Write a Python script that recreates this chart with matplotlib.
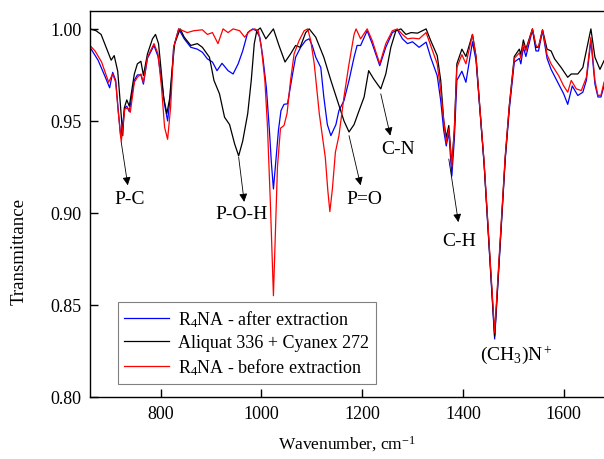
import matplotlib
matplotlib.use("Agg")
import matplotlib.pyplot as plt

# FTIR spectra
wn_black = [660, 672, 682, 692, 702, 708, 715, 720, 725, 728, 733, 738, 748, 754, 761, 766, 774, 784, 790, 796,
            801, 806, 812.5, 818, 822, 828, 839, 847, 860, 873, 883, 897, 906, 917, 927, 937, 947, 955, 963, 973,
            980, 986, 991, 998, 1009, 1024, 1035, 1047, 1058, 1068, 1077, 1088, 1095, 1108, 1124, 1138, 1151, 1164,
            1174, 1184, 1194, 1204, 1213, 1223, 1237, 1247, 1257, 1267, 1277, 1287, 1297, 1310, 1327, 1336, 1349,
            1356, 1362, 1367, 1372, 1378, 1383, 1388, 1398, 1406, 1419, 1426, 1432, 1442, 1463, 1484, 1492, 1502,
            1512, 1515, 1520, 1525, 1538, 1545, 1550, 1558, 1567, 1575, 1582, 1595, 1608, 1615, 1628, 1638, 1654,
            1662, 1672, 1680]
t_black = [1.000, 0.999, 0.997, 0.990, 0.983, 0.9855, 0.977, 0.960, 0.942, 0.957, 0.9614, 0.958, 0.9755, 0.981,
           0.9824, 0.9747, 0.9864, 0.9946, 0.997, 0.992, 0.978, 0.963, 0.954, 0.962, 0.975, 0.992, 1.000, 0.9955,
           0.991, 0.992, 0.990, 0.9846, 0.972, 0.9647, 0.952, 0.948, 0.9375, 0.931, 0.939, 0.954, 0.972, 0.992,
           0.999, 1.0005, 0.9946, 1.000, 0.991, 0.982, 0.9864, 0.991, 0.990, 0.998, 1.000, 0.9955, 0.9846, 0.972,
           0.961, 0.950, 0.944, 0.948, 0.9556, 0.963, 0.9773, 0.9728, 0.9674, 0.9755, 0.990, 0.999, 1.000, 0.997,
           0.998, 0.9977, 1.000, 0.9937, 0.9855, 0.972, 0.950, 0.941, 0.9475, 0.926, 0.945, 0.981, 0.989, 0.985,
           0.997, 0.985, 0.963, 0.927, 0.833, 0.930, 0.958, 0.985, 0.989, 0.986, 0.994, 0.989, 1.000, 0.990, 0.990,
           0.9995, 0.989, 0.988, 0.9837, 0.979, 0.9737, 0.9755, 0.9755, 0.979, 1.000, 0.9846, 0.978, 0.9827]

wn_red = [660, 670, 683, 697, 705, 711, 716, 722, 729, 735, 740, 748, 754, 761, 766, 774, 787, 795, 802, 808,
          814, 820, 826, 836, 853, 866, 883, 893, 903, 914, 924, 934, 944, 957, 967, 977, 987, 994, 1000, 1007,
          1012, 1018, 1024, 1032, 1038, 1045, 1051, 1058, 1065, 1075, 1085, 1092, 1098, 1105, 1115, 1122, 1127,
          1132, 1136, 1141, 1147, 1154, 1164, 1174, 1184, 1188, 1197, 1210, 1220, 1235, 1247, 1260, 1270, 1280,
          1290, 1300, 1313, 1327, 1336, 1349, 1356, 1362, 1367, 1372, 1378, 1383, 1388, 1398, 1406, 1419, 1426,
          1432, 1442, 1463, 1484, 1492, 1502, 1512, 1515, 1520, 1525, 1538, 1545, 1550, 1558, 1567, 1575, 1590,
          1600, 1608, 1615, 1625, 1635, 1645, 1654, 1662, 1668, 1674, 1680]
t_red = [0.991, 0.988, 0.982, 0.971, 0.9755, 0.971, 0.955, 0.9386, 0.9565, 0.957, 0.9547, 0.971, 0.9737, 0.9755,
         0.971, 0.9846, 0.992, 0.9864, 0.968, 0.9466, 0.940, 0.9574, 0.990, 1.000, 0.998, 0.999, 0.9995, 0.997,
         0.998, 0.992, 1.000, 0.998, 1.000, 0.999, 0.9955, 0.999, 1.000, 0.999, 0.990, 0.972, 0.948, 0.905, 0.855,
         0.925, 0.946, 0.9475, 0.954, 0.972, 0.9864, 0.9937, 0.999, 1.000, 0.9937, 0.981, 0.954, 0.940, 0.930,
         0.912, 0.9007, 0.913, 0.933, 0.942, 0.963, 0.981, 0.997, 1.000, 0.9946, 1.000, 0.9937, 0.981, 0.992,
         0.999, 1.000, 0.997, 0.9946, 0.995, 0.9946, 0.998, 0.991, 0.981, 0.9665, 0.950, 0.938, 0.9457, 0.925,
         0.945, 0.979, 0.986, 0.981, 0.997, 0.985, 0.963, 0.928, 0.835, 0.931, 0.958, 0.984, 0.987, 0.984, 0.992,
         0.988, 1.000, 0.991, 0.990, 0.9995, 0.986, 0.981, 0.9746, 0.969, 0.9656, 0.972, 0.9674, 0.9665, 0.9737,
         0.9955, 0.972, 0.9638, 0.964, 0.971]

wn_blue = [660, 676, 689, 699, 705, 711, 716, 721, 729, 733, 738, 748, 754, 761, 766, 774, 787, 795, 802, 808,
           814, 820, 826, 836, 847, 860, 873, 883, 893, 903, 912, 922, 934, 944, 954, 963, 973, 983, 990, 997,
           1003, 1010, 1016, 1020, 1024, 1030, 1034, 1039, 1045, 1052, 1062, 1068, 1078, 1088, 1095, 1101, 1108,
           1118, 1124, 1131, 1138, 1148, 1154, 1164, 1174, 1184, 1190, 1197, 1210, 1220, 1235, 1247, 1260, 1270,
           1280, 1290, 1300, 1313, 1327, 1336, 1349, 1356, 1362, 1367, 1372, 1378, 1383, 1388, 1398, 1406, 1419,
           1426, 1432, 1442, 1463, 1484, 1492, 1502, 1512, 1515, 1520, 1525, 1538, 1545, 1550, 1558, 1567, 1575,
           1590, 1600, 1608, 1617, 1628, 1638, 1645, 1654, 1662, 1668, 1674, 1680]
t_blue = [0.990, 0.983, 0.9747, 0.968, 0.9764, 0.972, 0.956, 0.941, 0.957, 0.958, 0.955, 0.972, 0.975, 0.975,
          0.970, 0.984, 0.991, 0.985, 0.972, 0.959, 0.950, 0.965, 0.990, 1.000, 0.9946, 0.990, 0.989, 0.9873,
          0.9837, 0.982, 0.9773, 0.9813, 0.9773, 0.9755, 0.981, 0.988, 0.998, 1.000, 0.999, 0.9955, 0.9846, 0.968,
          0.945, 0.927, 0.913, 0.932, 0.945, 0.9556, 0.959, 0.9593, 0.9755, 0.9846, 0.990, 0.9937, 0.9946, 0.991,
          0.9846, 0.979, 0.963, 0.948, 0.942, 0.948, 0.9556, 0.961, 0.972, 0.9846, 0.991, 0.991, 0.999, 0.992,
          0.980, 0.990, 0.998, 0.9995, 0.9946, 0.992, 0.993, 0.990, 0.9928, 0.9846, 0.9746, 0.961, 0.9447, 0.9364,
          0.944, 0.920, 0.940, 0.972, 0.977, 0.971, 0.993, 0.983, 0.962, 0.927, 0.8315, 0.929, 0.956, 0.982, 0.984,
          0.981, 0.990, 0.985, 0.9995, 0.988, 0.988, 0.999, 0.984, 0.978, 0.970, 0.9647, 0.959, 0.969, 0.9638,
          0.9656, 0.972, 0.9937, 0.970, 0.963, 0.963, 0.969]

labels = ["R$_4$NA - after extraction", "Aliquat 336 + Cyanex 272", "R$_4$NA - before extraction"]

# band labels: text, arrow tail (on the curve), arrow head
bands = [("P-C", (722, 0.9384), (735, 0.9150)),
         ("P-O-H", (955, 0.9303), (966, 0.9060)),
         ("P=O", (1174, 0.9420), (1197, 0.9150)),
         ("C-N", (1237, 0.9647), (1256, 0.9420)),
         ("C-H", (1372, 0.9293), (1391, 0.8950))]
text_pos = [(738, 0.9076), (960, 0.8995), (1205, 0.9080), (1271, 0.9348), (1393, 0.8850)]

plt.rcParams['font.family'] = ['Liberation Serif', 'DejaVu Serif']
plt.rcParams['mathtext.fontset'] = 'custom'
plt.rcParams['mathtext.rm'] = 'Liberation Serif'
plt.rcParams['mathtext.it'] = 'Liberation Serif:italic'

fig = plt.figure(figsize=(6.04, 4.6), dpi=100)
ax = fig.add_axes([0.149, 0.135, 0.851, 0.84])

ax.plot(wn_blue, t_blue, color='blue', lw=0.9, label=labels[0])
ax.plot(wn_black, t_black, color='black', lw=0.9, label=labels[1])
ax.plot(wn_red, t_red, color='red', lw=0.9, label=labels[2])

for (name, tail, head), tp in zip(bands, text_pos):
    ax.annotate("", xy=head, xytext=tail,
                arrowprops=dict(arrowstyle='-|>', color='black', lw=0.6, mutation_scale=12,
                                shrinkA=0, shrinkB=0))
    ax.text(tp[0], tp[1], name, fontsize=14, ha='center', va='center')
ax.text(1506, 0.8234, "(CH$_3$)N$^+$", fontsize=14, ha='center', va='center')

ax.set_xlim(660, 1680)
ax.set_ylim(0.80, 1.01)
ax.set_xticks([800, 1000, 1200, 1400, 1600])
ax.set_yticks([0.80, 0.85, 0.90, 0.95, 1.00])
ax.set_yticklabels(["0.80", "0.85", "0.90", "0.95", "1.00"])
ax.tick_params(direction='in', length=6, width=1, labelsize=13, pad=6, top=False, right=False)
for s in ax.spines.values():
    s.set_linewidth(1)
ax.spines['right'].set_visible(False)

ax.set_xlabel("Wavenumber, cm$^{-1}$", fontsize=12.5, labelpad=8)
ax.set_ylabel("Transmittance", fontsize=13.5)
ax.yaxis.set_label_coords(-0.122, 0.38)

leg = ax.legend(loc='lower left', bbox_to_anchor=(0.054, 0.034), borderaxespad=0, fontsize=13,
                frameon=True, fancybox=False, edgecolor='0.5', framealpha=1, handlelength=2.5,
                labelspacing=0.3, borderpad=0.35, handletextpad=0.5)
leg.get_frame().set_linewidth(0.8)

fig.savefig("out.png", dpi=100)
